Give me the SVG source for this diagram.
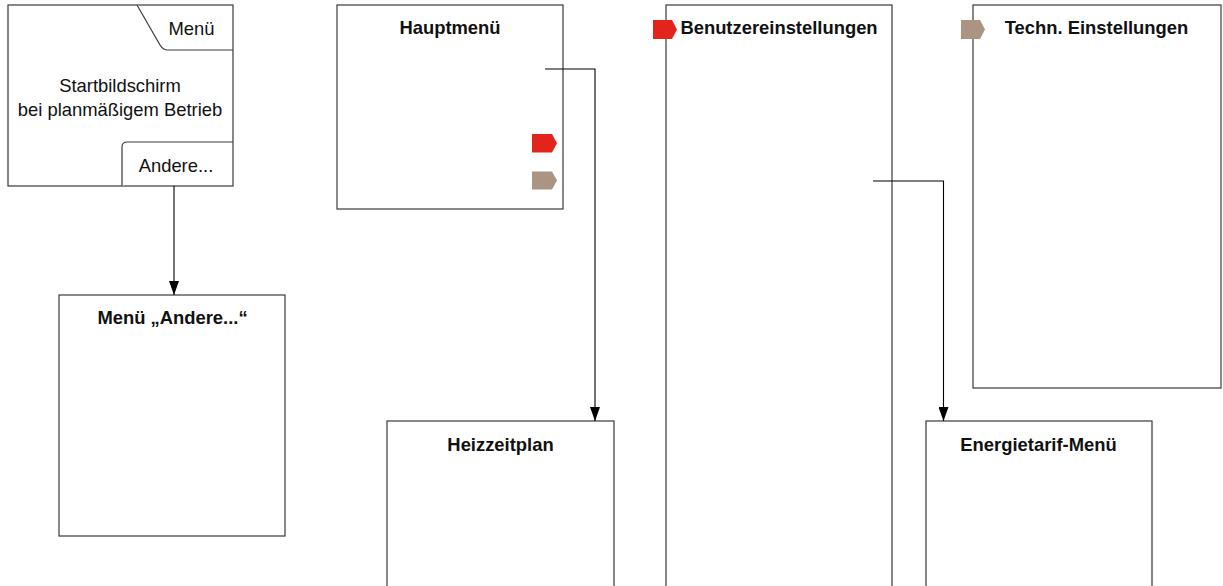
<svg xmlns="http://www.w3.org/2000/svg" width="1223" height="586" viewBox="0 0 1223 586">
<style>
.box{fill:#fff;stroke:#3a3a3a;stroke-width:1.2}
.t{font-family:"Liberation Sans",Arial,Helvetica,sans-serif;font-size:18.4px;fill:#111}
.b{font-weight:bold;text-anchor:middle}
.c{text-anchor:middle}
.conn{fill:none;stroke:#000;stroke-width:1.1}
.red{fill:#e3241c}
.tan{fill:#ab9482}
</style>
<defs>
<marker id="ah" markerWidth="14" markerHeight="10" refX="14" refY="5" orient="auto" markerUnits="userSpaceOnUse" viewBox="0 0 14 10">
<path d="M0,0 L14,5 L0,10 Z" fill="#000"/>
</marker>
</defs>
<rect width="1223" height="586" fill="#fff"/>

<g id="start">
<rect class="box" x="8" y="5" width="225" height="181"/>
<path class="box" d="M137,5 L160,45 Q163,50 168,50 L233,50"/>
<path class="box" d="M122,186 L122,147 Q122,142 127,142 L233,142"/>
<text class="t" x="191.5" y="35" text-anchor="middle">Menü</text>
<text class="t c" x="120" y="92">Startbildschirm</text>
<text class="t c" x="120" y="116">bei planmäßigem Betrieb</text>
<text class="t" x="176" y="172" text-anchor="middle">Andere...</text>
</g>

<g id="andere">
<rect class="box" x="59" y="295" width="226" height="241"/>
<text class="t b" x="172.5" y="324">Menü „Andere...“</text>
</g>

<g id="hauptmenue">
<rect class="box" x="337" y="5" width="226" height="204"/>
<text class="t b" x="450" y="34">Hauptmenü</text>
<path class="red" d="M532,134 H552 L557,143.3 L552,152.5 H532 Z"/>
<path class="tan" d="M532,171.5 H552 L557,180.5 L552,189.5 H532 Z"/>
</g>

<g id="heizzeitplan">
<rect class="box" x="387" y="421" width="227" height="190"/>
<text class="t b" x="500.5" y="451">Heizzeitplan</text>
</g>

<g id="benutzer">
<rect class="box" x="666" y="5" width="226" height="606"/>
<path class="red" d="M653,20 H672 L677,29.5 L672,39 H653 Z"/>
<text class="t b" x="779" y="34">Benutzereinstellungen</text>
</g>

<g id="energietarif">
<rect class="box" x="926" y="421" width="226" height="190"/>
<text class="t b" x="1038.5" y="451">Energietarif-Menü</text>
</g>

<g id="techn">
<rect class="box" x="973" y="5" width="248" height="383"/>
<path class="tan" d="M961,20 H980 L985,29.5 L980,39 H961 Z"/>
<text class="t b" x="1096.5" y="34">Techn. Einstellungen</text>
</g>

<g id="connectors">
<path class="conn" d="M174,186 V295" marker-end="url(#ah)"/>
<path class="conn" d="M545,69 H595 V421" marker-end="url(#ah)"/>
<path class="conn" d="M873,181 H943.5 V421" marker-end="url(#ah)"/>
</g>
</svg>
